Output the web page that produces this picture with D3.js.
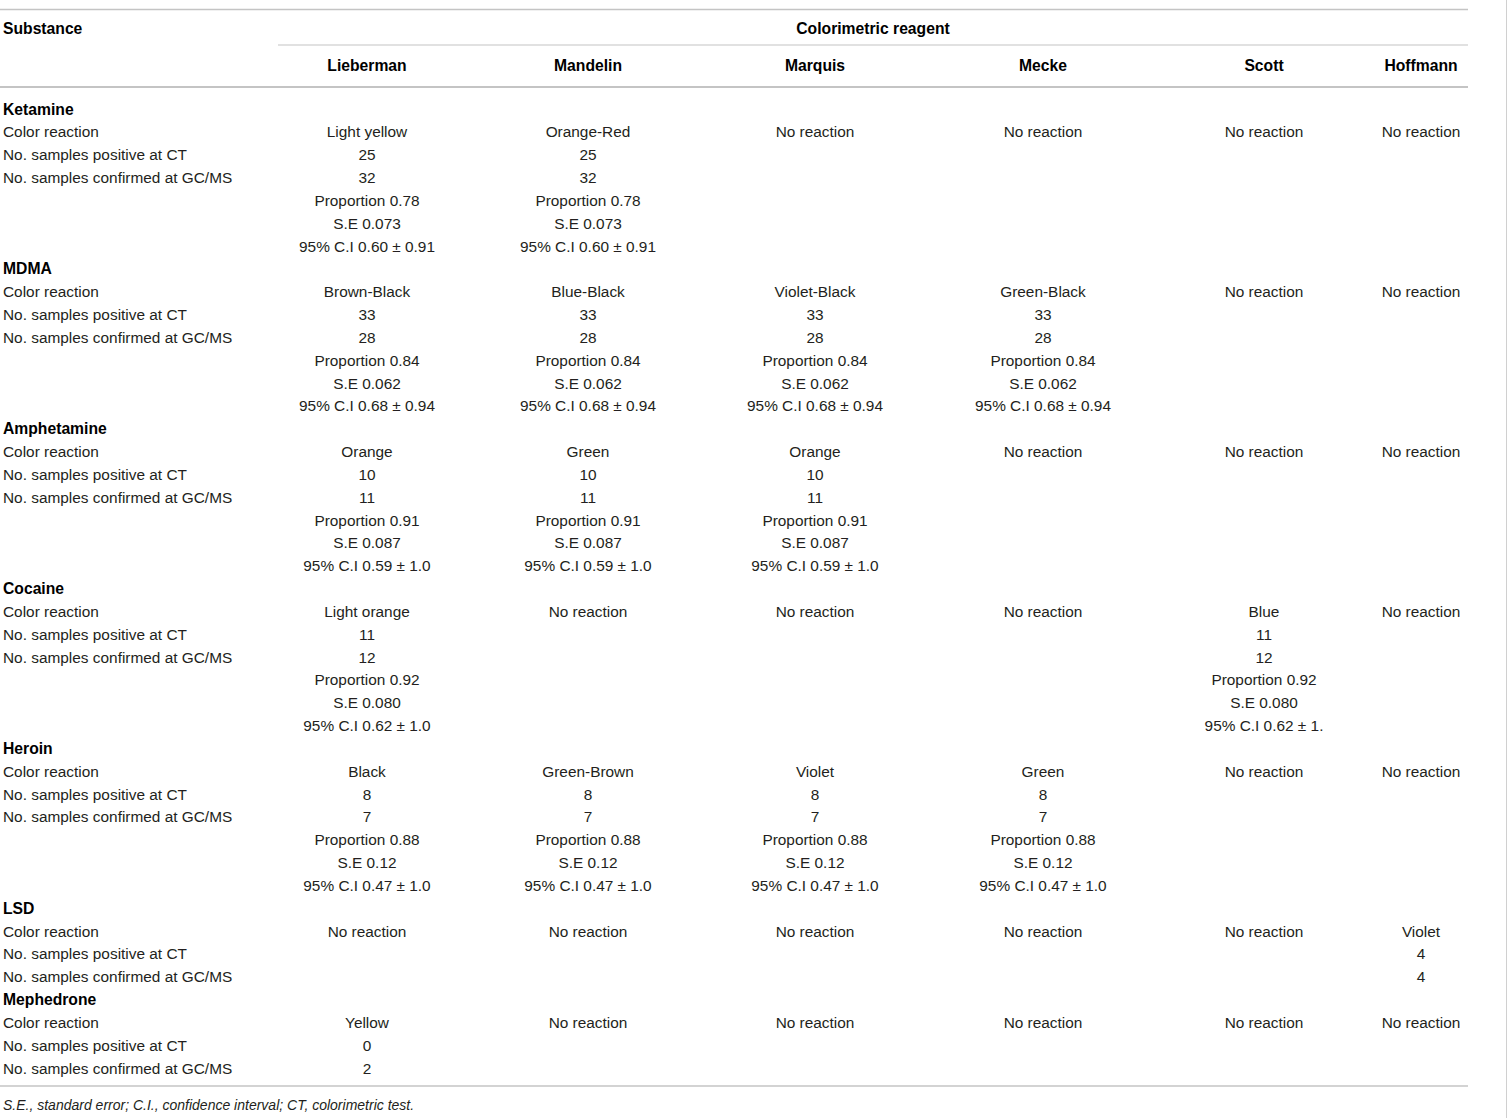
<!DOCTYPE html>
<html>
<head>
<meta charset="utf-8">
<script src="https://cdn.jsdelivr.net/npm/d3@7/dist/d3.min.js"></script>
<style>
  html, body { margin: 0; padding: 0; background: #fff; }
  svg { display: block; }
</style>
</head>
<body>
<svg id="chart" width="1510" height="1118"></svg>
<script>
// ---------- DATA ----------
const substances = ["Ketamine", "MDMA", "Amphetamine", "Cocaine", "Heroin", "LSD", "Mephedrone"];
const reagents = ["Lieberman", "Mandelin", "Marquis", "Mecke", "Scott", "Hoffmann"];
const rowLabels = ["Color reaction", "No. samples positive at CT", "No. samples confirmed at GC/MS"];

const colorReaction = [
  ["Light yellow", "Orange-Red", "No reaction", "No reaction", "No reaction", "No reaction"],
  ["Brown-Black", "Blue-Black", "Violet-Black", "Green-Black", "No reaction", "No reaction"],
  ["Orange", "Green", "Orange", "No reaction", "No reaction", "No reaction"],
  ["Light orange", "No reaction", "No reaction", "No reaction", "Blue", "No reaction"],
  ["Black", "Green-Brown", "Violet", "Green", "No reaction", "No reaction"],
  ["No reaction", "No reaction", "No reaction", "No reaction", "No reaction", "Violet"],
  ["Yellow", "No reaction", "No reaction", "No reaction", "No reaction", "No reaction"]
];
const positiveCT = [
  [25, 25, null, null, null, null],
  [33, 33, 33, 33, null, null],
  [10, 10, 10, null, null, null],
  [11, null, null, null, 11, null],
  [8, 8, 8, 8, null, null],
  [null, null, null, null, null, 4],
  [0, null, null, null, null, null]
];
const confirmedGCMS = [
  [32, 32, null, null, null, null],
  [28, 28, 28, 28, null, null],
  [11, 11, 11, null, null, null],
  [12, null, null, null, 12, null],
  [7, 7, 7, 7, null, null],
  [null, null, null, null, null, 4],
  [2, null, null, null, null, null]
];
const proportion = [
  ["0.78", "0.78", null, null, null, null],
  ["0.84", "0.84", "0.84", "0.84", null, null],
  ["0.91", "0.91", "0.91", null, null, null],
  ["0.92", null, null, null, "0.92", null],
  ["0.88", "0.88", "0.88", "0.88", null, null],
  [null, null, null, null, null, null],
  [null, null, null, null, null, null]
];
const stdError = [
  ["0.073", "0.073", null, null, null, null],
  ["0.062", "0.062", "0.062", "0.062", null, null],
  ["0.087", "0.087", "0.087", null, null, null],
  ["0.080", null, null, null, "0.080", null],
  ["0.12", "0.12", "0.12", "0.12", null, null],
  [null, null, null, null, null, null],
  [null, null, null, null, null, null]
];
const confInterval = [
  ["0.60 ± 0.91", "0.60 ± 0.91", null, null, null, null],
  ["0.68 ± 0.94", "0.68 ± 0.94", "0.68 ± 0.94", "0.68 ± 0.94", null, null],
  ["0.59 ± 1.0", "0.59 ± 1.0", "0.59 ± 1.0", null, null, null],
  ["0.62 ± 1.0", null, null, null, "0.62 ± 1.", null],
  ["0.47 ± 1.0", "0.47 ± 1.0", "0.47 ± 1.0", "0.47 ± 1.0", null, null],
  [null, null, null, null, null, null],
  [null, null, null, null, null, null]
];
const headerSubstance = "Substance";
const headerGroup = "Colorimetric reagent";
const footnote = "S.E., standard error; C.I., confidence interval; CT, colorimetric test.";

// ---------- BUILD ROWS ----------
const rows = [];
substances.forEach((s, i) => {
  rows.push({ type: "head", label: s, cells: [] });
  rows.push({ type: "row", label: rowLabels[0], cells: colorReaction[i] });
  rows.push({ type: "row", label: rowLabels[1], cells: positiveCT[i].map(v => v == null ? null : String(v)) });
  rows.push({ type: "row", label: rowLabels[2], cells: confirmedGCMS[i].map(v => v == null ? null : String(v)) });
  if (proportion[i].some(v => v != null)) {
    rows.push({ type: "stat", label: "", cells: proportion[i].map(v => v == null ? null : "Proportion " + v) });
    rows.push({ type: "stat", label: "", cells: stdError[i].map(v => v == null ? null : "S.E " + v) });
    rows.push({ type: "stat", label: "", cells: confInterval[i].map(v => v == null ? null : "95% C.I " + v) });
  }
});

// ---------- LAYOUT ----------
const W = 1510, H = 1118;
const svg = d3.select("#chart");
const FONT = "'Liberation Sans', Arial, Helvetica, sans-serif";
const fs = 15.4;
const fsBold = 15.7;
const textColor = "#231f20";
const lineColor = "#c4c4c4";

const colCenters = [367, 588, 815, 1043, 1264, 1421];
const x = d3.scaleOrdinal().domain(reagents).range(colCenters);
const y = d3.scaleLinear().domain([0, rows.length - 1]).range([109, 1068]);

const tableLeft = 0, tableRight = 1468, groupLeft = 278;

// rules
const rules = [
  { x1: tableLeft, x2: tableRight, y: 9.5, w: 1.5 },
  { x1: groupLeft, x2: tableRight, y: 45, w: 1.2 },
  { x1: tableLeft, x2: tableRight, y: 87, w: 2 },
  { x1: tableLeft, x2: tableRight, y: 1086, w: 1.5 }
];
svg.selectAll("line.rule").data(rules).join("line")
  .attr("class", "rule")
  .attr("x1", d => d.x1).attr("x2", d => d.x2)
  .attr("y1", d => d.y).attr("y2", d => d.y)
  .attr("stroke", lineColor).attr("stroke-width", d => d.w);

// right border
svg.append("line")
  .attr("x1", 1506.5).attr("x2", 1506.5).attr("y1", 0).attr("y2", H)
  .attr("stroke", "#d0d0d0").attr("stroke-width", 1);

// headers
svg.append("text")
  .attr("x", 3).attr("y", 28)
  .attr("dominant-baseline", "central")
  .attr("font-family", FONT).attr("font-size", fsBold).attr("font-weight", "bold")
  .attr("fill", "#000").text(headerSubstance);

svg.append("text")
  .attr("x", (groupLeft + tableRight) / 2).attr("y", 28)
  .attr("text-anchor", "middle").attr("dominant-baseline", "central")
  .attr("font-family", FONT).attr("font-size", fsBold).attr("font-weight", "bold")
  .attr("fill", "#000").text(headerGroup);

svg.selectAll("text.colhead").data(reagents).join("text")
  .attr("class", "colhead")
  .attr("x", d => x(d)).attr("y", 65)
  .attr("text-anchor", "middle").attr("dominant-baseline", "central")
  .attr("font-family", FONT).attr("font-size", fsBold).attr("font-weight", "bold")
  .attr("fill", "#000").text(d => d);

// body rows
const g = svg.append("g");
const rowG = g.selectAll("g.row").data(rows).join("g")
  .attr("class", "row")
  .attr("transform", (d, i) => `translate(0,${y(i)})`);

rowG.append("text")
  .attr("x", 3).attr("y", 0)
  .attr("dominant-baseline", "central")
  .attr("font-family", FONT)
  .attr("font-size", d => d.type === "head" ? fsBold : fs)
  .attr("font-weight", d => d.type === "head" ? "bold" : "normal")
  .attr("fill", d => d.type === "head" ? "#000" : textColor)
  .text(d => d.label);

rowG.selectAll("text.cell")
  .data(d => d.cells.map((v, j) => ({ v, j })).filter(c => c.v != null))
  .join("text")
  .attr("class", "cell")
  .attr("x", c => x(reagents[c.j])).attr("y", 0)
  .attr("text-anchor", "middle").attr("dominant-baseline", "central")
  .attr("font-family", FONT).attr("font-size", fs)
  .attr("fill", textColor)
  .text(c => c.v);

// footnote
svg.append("text")
  .attr("x", 3).attr("y", 1105)
  .attr("dominant-baseline", "central")
  .attr("font-family", FONT).attr("font-size", 14).attr("font-style", "italic")
  .attr("fill", textColor).text(footnote);
</script>
</body>
</html>
